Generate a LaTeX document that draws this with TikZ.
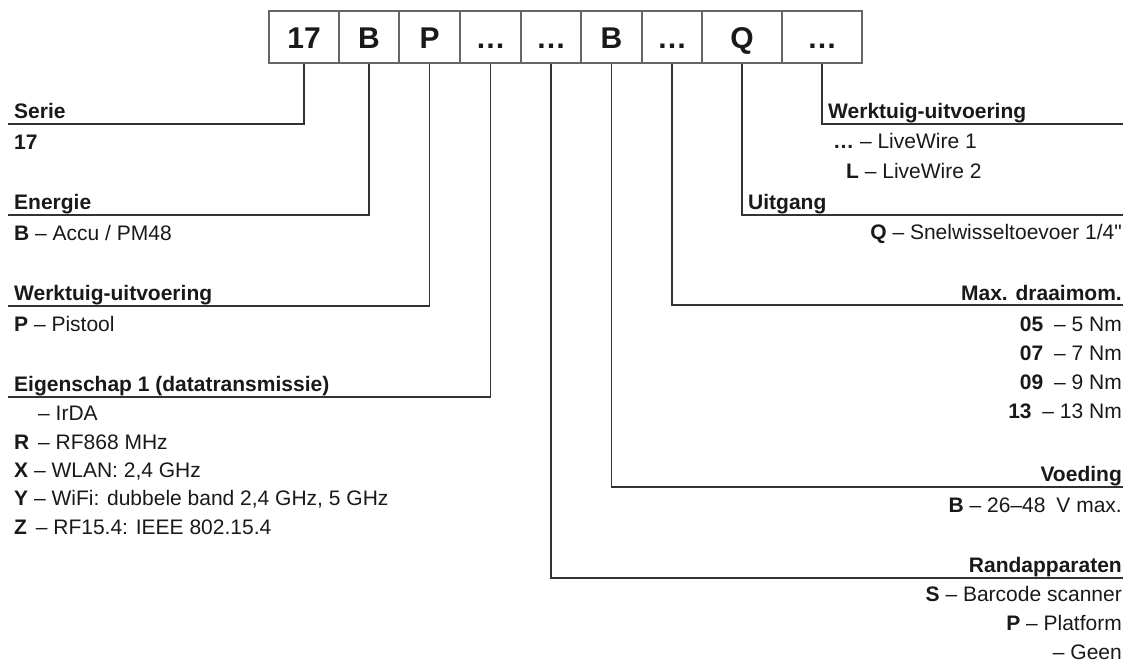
\documentclass[tikz,border=0pt]{standalone}
\usepackage{fontspec}
\setmainfont{Liberation Sans}[Ligatures=TeXOff]

\begin{document}
\begin{tikzpicture}[x=1pt,y=-1pt,
  keybox/.style={draw=black!60,line width=1.2pt,minimum height=52pt,inner sep=0pt,text height=22pt,text depth=0pt,text=black!90,font=\fontsize{30}{30}\selectfont\bfseries},
  lead/.style={draw=black!80,line width=1.4pt},
  head/.style={inner sep=0pt,text=black!90,font=\fontsize{21}{24}\selectfont\bfseries},
  item/.style={inner sep=0pt,text=black!90,font=\fontsize{21}{24}\selectfont}]
  \useasboundingbox (0,0) rectangle (1126,665);

  \foreach \n/\x/\w/\t in {k1/304/70/17, k2/369/60/B, k3/429.5/61/P, k4/490.5/61/…, k5/551/60/…,
      k6/611.5/61/B, k7/672/60/…, k8/742/80/Q, k9/822/80/…}
    \node[keybox,minimum width=\w pt] (\n) at (\x,37) {\t};

  \node[head,anchor=base west] (serie) at (14,118) {Serie};
  \node[item,anchor=base west] (serie17) at (14,149) {\textbf{17}};
  \node[head,anchor=base west] (energie) at (14,209) {Energie};
  \node[item,anchor=base west] (energieB) at (14,240) {\textbf{B} – Accu / PM48};
  \node[head,anchor=base west] (werktuig) at (14,300) {Werktuig-uitvoering};
  \node[item,anchor=base west] (werktuigP) at (14,331) {\textbf{P} – Pistool};
  \node[head,anchor=base west] (eigenschap) at (14,391) {Eigenschap 1 (datatransmissie)};
  \node[item,anchor=base west] (eigenIr) at (14,420) {\phantom{\textbf{R}}\hspace{3pt} – IrDA};
  \node[item,anchor=base west] (eigenR) at (14,449) {\textbf{R}\hspace{3pt} – RF868 MHz};
  \node[item,anchor=base west] (eigenX) at (14,477) {\textbf{X} – WLAN: 2,4 GHz};
  \node[item,anchor=base west] (eigenY) at (14,505) {\textbf{Y} – WiFi: dubbele band 2,4 GHz, 5 GHz};
  \node[item,anchor=base west] (eigenZ) at (14,534) {\textbf{Z}\hspace{3pt} – RF15.4: IEEE 802.15.4};

  \node[head,anchor=base west] (uitvoering) at (828,118) {Werktuig-uitvoering};
  \node[item,anchor=base west] (uitvLw1) at (833,148) {\textbf{…} – LiveWire 1};
  \node[item,anchor=base west] (uitvLw2) at (846,178) {\textbf{L} – LiveWire 2};
  \node[head,anchor=base west] (uitgang) at (748,209) {Uitgang};
  \node[item,anchor=base east] (uitgangQ) at (1122,239) {\textbf{Q} – Snelwisseltoevoer 1/4"};
  \node[head,anchor=base east] (draaimom) at (1122,300) {Max. draaimom.};
  \node[item,anchor=base east] (mom05) at (1122,331) {\textbf{05}\hspace{5pt} – 5 Nm};
  \node[item,anchor=base east] (mom07) at (1122,360) {\textbf{07}\hspace{5pt} – 7 Nm};
  \node[item,anchor=base east] (mom09) at (1122,389) {\textbf{09}\hspace{5pt} – 9 Nm};
  \node[item,anchor=base east] (mom13) at (1122,418) {\textbf{13}\hspace{5pt} – 13 Nm};
  \node[head,anchor=base east] (voeding) at (1122,481) {Voeding};
  \node[item,anchor=base east] (voedingB) at (1122,512) {\textbf{B} – 26–48\hspace{5pt} V max.};
  \node[head,anchor=base east] (rand) at (1122,572) {Randapparaten};
  \node[item,anchor=base east] (randS) at (1122,601) {\textbf{S} – Barcode scanner};
  \node[item,anchor=base east] (randP) at (1122,630) {\textbf{P} – Platform};
  \node[item,anchor=base east] (randGeen) at (1122,659) {– Geen};

  \coordinate (serieEnd) at (8,124);
  \coordinate (energieEnd) at (8,215);
  \coordinate (werktuigEnd) at (8,306);
  \coordinate (eigenEnd) at (8,397);
  \coordinate (uitvoeringEnd) at (1123,124);
  \coordinate (uitgangEnd) at (1123,215);
  \coordinate (draaimomEnd) at (1123,305);
  \coordinate (voedingEnd) at (1123,487);
  \coordinate (randEnd) at (1123,578);

  \draw[lead] (k1.south) |- (serieEnd);
  \draw[lead] (k2.south) |- (energieEnd);
  \draw[lead] (k3.south) |- (werktuigEnd);
  \draw[lead] (k4.south) |- (eigenEnd);
  \draw[lead] (k5.south) |- (randEnd);
  \draw[lead] (k6.south) |- (voedingEnd);
  \draw[lead] (k7.south) |- (draaimomEnd);
  \draw[lead] (k8.south) |- (uitgangEnd);
  \draw[lead] (k9.south) |- (uitvoeringEnd);
\end{tikzpicture}
\end{document}
